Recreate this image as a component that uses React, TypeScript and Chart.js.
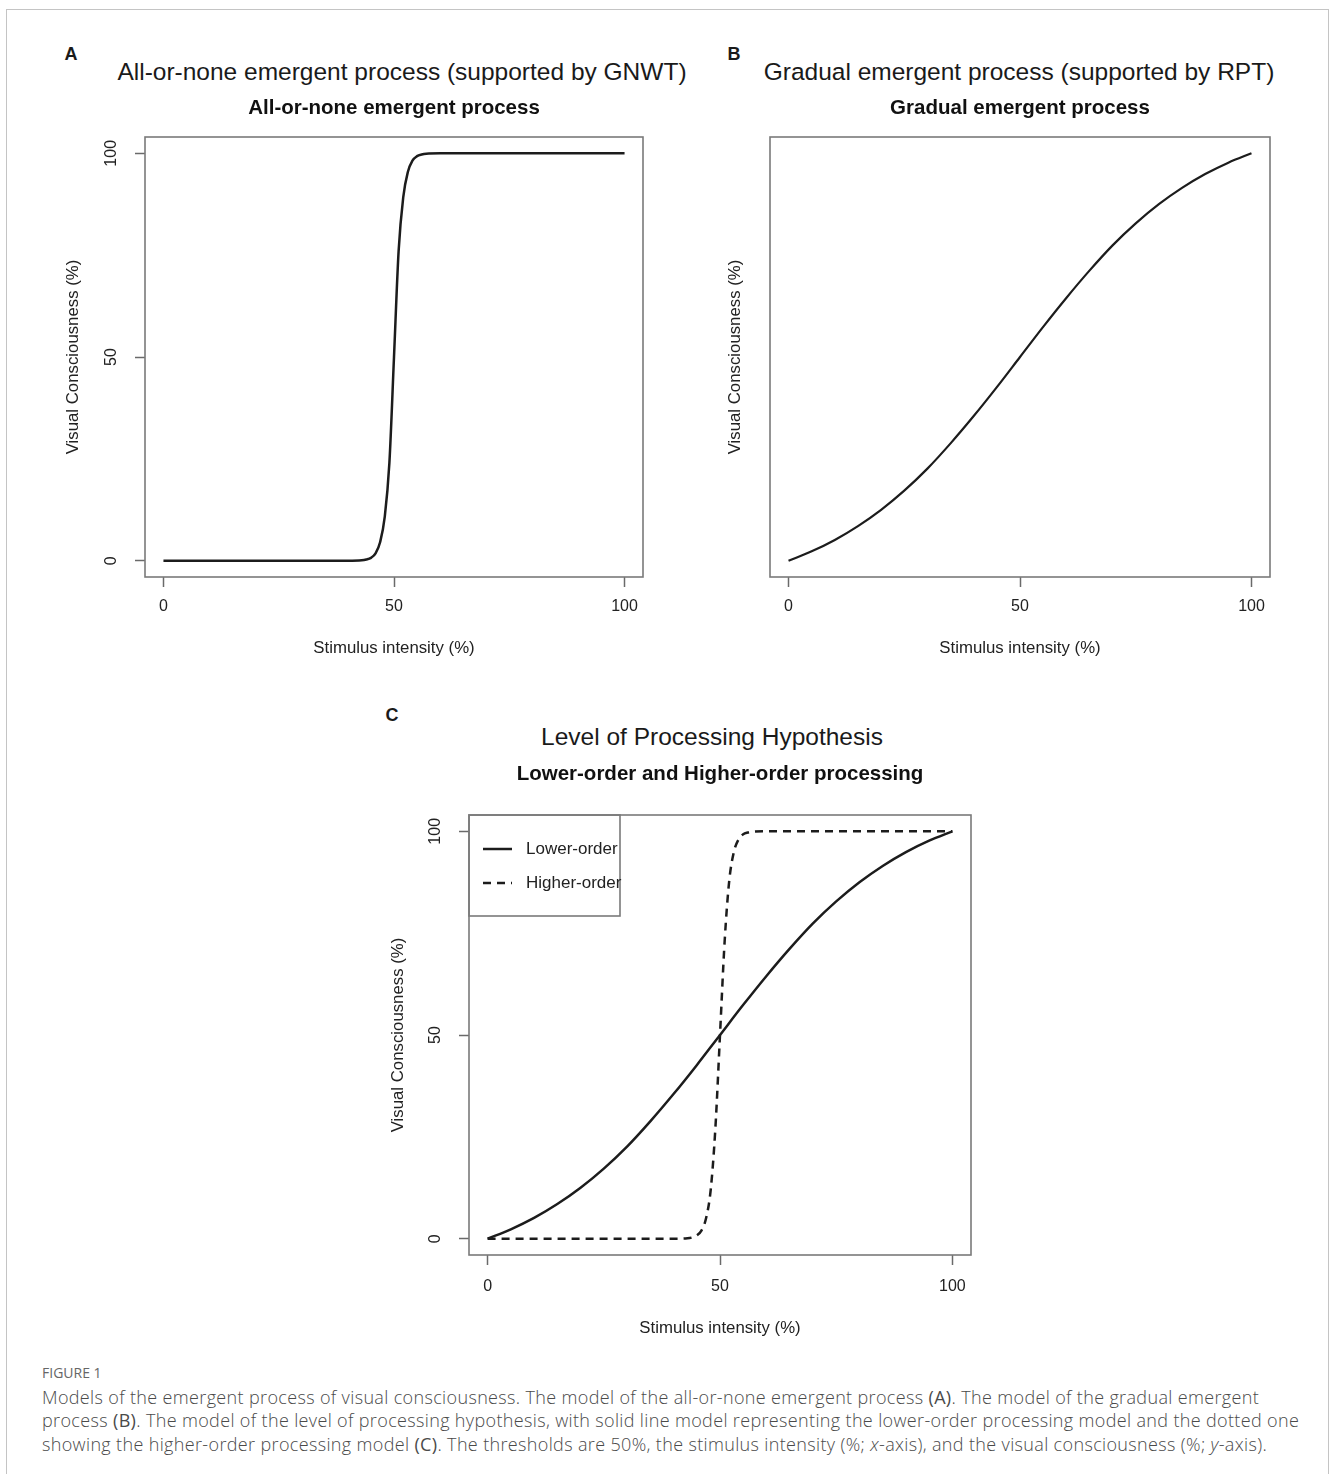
import React, { useEffect, useRef } from 'react';
import { Chart, registerables } from 'chart.js';

Chart.register(...registerables);

const FONT = '"Liberation Sans", Arial, Helvetica, sans-serif';
const CAPTION_FONT = '"Open Sans", Lato, "Noto Sans", sans-serif';

// ---------------- data ----------------
const xTickValues = [0, 50, 100];
const yTickValues = [0, 50, 100];

// All-or-none (steep) model
const allOrNoneX = [0, 10, 20, 30, 40, 43, 44, 45, 46, 47, 48, 49, 50, 51, 52, 53, 54, 55, 56, 57, 60, 70, 80, 90, 100];
const allOrNoneY = [0, 0, 0, 0, 0, 0.1, 0.3, 0.7, 1.8, 4.6, 10.8, 24, 50, 76, 89.2, 95.4, 98.2, 99.3, 99.7, 99.9, 100, 100, 100, 100, 100];

// Gradual model
const gradualX = [0, 5, 10, 15, 20, 25, 30, 35, 40, 45, 50, 55, 60, 65, 70, 75, 80, 85, 90, 95, 100];
const gradualY = [0, 2.3, 5.1, 8.5, 12.5, 17.2, 22.6, 28.8, 35.5, 42.6, 50, 57.4, 64.5, 71.2, 77.4, 82.8, 87.5, 91.5, 94.9, 97.7, 100];

// Panel C: lower-order (solid) and higher-order (dashed)
const lowerOrderX = [0, 5, 10, 15, 20, 25, 30, 35, 40, 45, 50, 55, 60, 65, 70, 75, 80, 85, 90, 95, 100];
const lowerOrderY = [0, 2.3, 5.1, 8.5, 12.5, 17.2, 22.6, 28.8, 35.5, 42.6, 50, 57.4, 64.5, 71.2, 77.4, 82.8, 87.5, 91.5, 94.9, 97.7, 100];
const higherOrderX = [0, 10, 20, 30, 40, 43, 44, 45, 46, 47, 48, 49, 50, 51, 52, 53, 54, 55, 56, 57, 60, 70, 80, 90, 100];
const higherOrderY = [0, 0, 0, 0, 0, 0.1, 0.3, 0.8, 2.0, 5.0, 12.0, 27, 50, 73, 88, 95, 98, 99.3, 99.7, 99.9, 100, 100, 100, 100, 100];

const seriesLabels = ['Lower-order', 'Higher-order'];

const X_TITLE = 'Stimulus intensity (%)';
const Y_TITLE = 'Visual Consciousness (%)';

const toPoints = (xs: number[], ys: number[]) => xs.map((x, i) => ({ x, y: ys[i] }));

// ---------------- plugins ----------------
const boxPlugin = {
  id: 'rBox',
  afterDraw(chart: any) {
    const { ctx, chartArea } = chart;
    ctx.save();
    ctx.strokeStyle = '#7a7a7a';
    ctx.lineWidth = 1.6;
    ctx.strokeRect(chartArea.left, chartArea.top, chartArea.right - chartArea.left, chartArea.bottom - chartArea.top);
    ctx.restore();
  },
};

const rotatedYTicksPlugin = {
  id: 'rYTicks',
  afterDraw(chart: any, _args: any, opts: any) {
    if (!opts || !opts.display) return;
    const scale = chart.scales.y;
    const { ctx, chartArea } = chart;
    ctx.save();
    ctx.fillStyle = '#222';
    ctx.font = `16px ${FONT}`;
    ctx.textAlign = 'center';
    ctx.textBaseline = 'middle';
    for (const t of scale.ticks) {
      const y = scale.getPixelForValue(t.value);
      ctx.save();
      ctx.translate(chartArea.left - opts.offset, y);
      ctx.rotate(-Math.PI / 2);
      ctx.fillText(String(t.value), 0, 0);
      ctx.restore();
    }
    ctx.restore();
  },
};

const rLegendPlugin = {
  id: 'rLegend',
  afterDraw(chart: any, _args: any, opts: any) {
    if (!opts || !opts.display) return;
    const { ctx, chartArea } = chart;
    const L = chartArea.left;
    const T = chartArea.top;
    ctx.save();
    ctx.strokeStyle = '#7a7a7a';
    ctx.lineWidth = 1.6;
    ctx.strokeRect(L, T, opts.width, opts.height);
    ctx.font = `17px ${FONT}`;
    ctx.textBaseline = 'middle';
    ctx.textAlign = 'left';
    chart.data.datasets.forEach((ds: any, i: number) => {
      const y = T + opts.firstRow + i * opts.rowGap;
      ctx.strokeStyle = ds.borderColor;
      ctx.lineWidth = ds.borderWidth;
      ctx.setLineDash(ds.borderDash || []);
      ctx.beginPath();
      ctx.moveTo(L + 14, y);
      ctx.lineTo(L + 43, y);
      ctx.stroke();
      ctx.setLineDash([]);
      ctx.fillStyle = '#222';
      ctx.fillText(ds.label, L + 57, y);
    });
    ctx.restore();
  },
};

type Geo = {
  subtitle: string;
  datasets: any[];
  yTicks: boolean;
  yAxisWidth: number;
  yTitlePad: number;
  xAxisHeight: number;
  xTitlePad: number;
  xTickPad: number;
  titlePadTop: number;
  titlePadBottom: number;
  rightPad: number;
  legend: boolean;
};

function makeConfig(g: Geo): any {
  const tickFont = { family: FONT, size: 16 };
  const axisFont = { family: FONT, size: 16.8 };
  return {
    type: 'line',
    data: { datasets: g.datasets },
    options: {
      responsive: false,
      animation: false,
      events: [],
      layout: { padding: { left: 0, right: g.rightPad, top: 0, bottom: 0 } },
      elements: { point: { radius: 0 }, line: { cubicInterpolationMode: 'monotone' } },
      scales: {
        x: {
          type: 'linear',
          min: -4,
          max: 104,
          bounds: 'data',
          afterBuildTicks: (s: any) => {
            s.ticks = xTickValues.map((v) => ({ value: v }));
          },
          afterFit: (s: any) => {
            s.height = g.xAxisHeight;
          },
          grid: { display: true, drawOnChartArea: false, drawTicks: true, tickLength: 10, tickWidth: 1.5, tickColor: '#6a6a6a' },
          border: { display: false },
          ticks: { display: true, padding: g.xTickPad, autoSkip: false, maxRotation: 0, minRotation: 0, color: '#222', font: tickFont },
          title: { display: true, text: X_TITLE, color: '#222', font: axisFont, padding: { top: 0, bottom: g.xTitlePad } },
        },
        y: {
          type: 'linear',
          min: -4,
          max: 104,
          bounds: 'data',
          afterBuildTicks: (s: any) => {
            s.ticks = yTickValues.map((v) => ({ value: v }));
          },
          afterFit: (s: any) => {
            s.width = g.yAxisWidth;
          },
          grid: { display: g.yTicks, drawOnChartArea: false, drawTicks: true, tickLength: 10, tickWidth: 1.5, tickColor: '#6a6a6a' },
          border: { display: false },
          ticks: { display: false },
          title: { display: true, text: Y_TITLE, color: '#222', font: axisFont, padding: { top: g.yTitlePad, bottom: 0 } },
        },
      },
      plugins: {
        legend: { display: false },
        tooltip: { enabled: false },
        title: {
          display: true,
          text: g.subtitle,
          fullSize: false,
          color: '#111',
          font: { family: FONT, size: 20.5, weight: 'bold' },
          padding: { top: g.titlePadTop, bottom: g.titlePadBottom },
        },
        rYTicks: { display: g.yTicks, offset: 33 },
        rLegend: { display: g.legend, width: 151, height: 101, firstRow: 34, rowGap: 34 },
      },
    },
    plugins: [boxPlugin, rotatedYTicksPlugin, rLegendPlugin],
  };
}

function ChartPanel({ left, top, width, height, geo }: { left: number; top: number; width: number; height: number; geo: Geo }) {
  const ref = useRef<HTMLCanvasElement>(null);
  useEffect(() => {
    const chart = new Chart(ref.current as HTMLCanvasElement, makeConfig(geo));
    return () => chart.destroy();
  }, []);
  return (
    <canvas
      ref={ref}
      width={width}
      height={height}
      style={{ position: 'absolute', left, top, width, height }}
    />
  );
}

const lineColor = '#1c1c1c';

const panelA: Geo = {
  subtitle: 'All-or-none emergent process',
  datasets: [
    { label: 'All-or-none', data: toPoints(allOrNoneX, allOrNoneY), borderColor: lineColor, borderWidth: 2.5, fill: false },
  ],
  yTicks: true,
  yAxisWidth: 95,
  yTitlePad: 12.9,
  xAxisHeight: 103,
  xTitlePad: 21.9,
  xTickPad: 10.4,
  titlePadTop: 15.7,
  titlePadBottom: 16.7,
  rightPad: 37,
  legend: false,
};

const panelB: Geo = {
  subtitle: 'Gradual emergent process',
  datasets: [
    { label: 'Gradual', data: toPoints(gradualX, gradualY), borderColor: lineColor, borderWidth: 2.2, fill: false },
  ],
  yTicks: false,
  yAxisWidth: 60,
  yTitlePad: 14.9,
  xAxisHeight: 103,
  xTitlePad: 21.9,
  xTickPad: 10.4,
  titlePadTop: 15.7,
  titlePadBottom: 16.7,
  rightPad: 40,
  legend: false,
};

const panelC: Geo = {
  subtitle: 'Lower-order and Higher-order processing',
  datasets: [
    { label: seriesLabels[0], data: toPoints(lowerOrderX, lowerOrderY), borderColor: lineColor, borderWidth: 2.5, fill: false },
    { label: seriesLabels[1], data: toPoints(higherOrderX, higherOrderY), borderColor: lineColor, borderWidth: 2.5, borderDash: [8, 6], fill: false },
  ],
  yTicks: true,
  yAxisWidth: 89,
  yTitlePad: 7.9,
  xAxisHeight: 95,
  xTitlePad: 11.9,
  xTickPad: 12.4,
  titlePadTop: 21.7,
  titlePadBottom: 28.7,
  rightPad: 39,
  legend: true,
};

function Centered({ cx, cy, size, bold, children }: { cx: number; cy: number; size: number; bold?: boolean; children: React.ReactNode }) {
  return (
    <div
      style={{
        position: 'absolute',
        left: cx - 450,
        top: cy - size * 0.6,
        width: 900,
        height: size * 1.2,
        lineHeight: `${size * 1.2}px`,
        textAlign: 'center',
        fontFamily: FONT,
        fontSize: size,
        fontWeight: bold ? 'bold' : 'normal',
        color: '#1a1a1a',
        whiteSpace: 'nowrap',
      }}
    >
      {children}
    </div>
  );
}

export default function App() {
  const captionLine: React.CSSProperties = {
    position: 'absolute',
    left: 42,
    fontFamily: CAPTION_FONT,
    fontSize: 18,
    fontWeight: 300,
    letterSpacing: '0.35px',
    lineHeight: '22px',
    color: '#4a4a4a',
    whiteSpace: 'nowrap',
  };
  return (
    <div style={{ position: 'absolute', left: 0, top: 0, width: 1331, height: 1474, overflow: 'hidden', background: '#fff' }}>
      <div
        style={{
          position: 'absolute',
          left: 6,
          top: 9,
          width: 1323,
          height: 1470,
          boxSizing: 'border-box',
          borderTop: '1px solid #c4c4c4',
          borderLeft: '1px solid #c4c4c4',
          borderRight: '1px solid #c4c4c4',
        }}
      />
      <Centered cx={71} cy={55} size={18} bold>A</Centered>
      <Centered cx={734} cy={55} size={18} bold>B</Centered>
      <Centered cx={392} cy={716} size={18} bold>C</Centered>
      <Centered cx={402} cy={72} size={24.5}>All-or-none emergent process (supported by GNWT)</Centered>
      <Centered cx={1019} cy={72} size={24.5}>Gradual emergent process (supported by RPT)</Centered>
      <Centered cx={712} cy={737} size={24.5}>Level of Processing Hypothesis</Centered>

      <ChartPanel left={50} top={80} width={630} height={600} geo={panelA} />
      <ChartPanel left={710} top={80} width={600} height={600} geo={panelB} />
      <ChartPanel left={380} top={740} width={630} height={610} geo={panelC} />

      <div style={{ ...captionLine, top: 1362, fontSize: 14, fontWeight: 400, letterSpacing: '0px', color: '#666' }}>FIGURE 1</div>
      <div style={{ ...captionLine, top: 1386 }}>
        Models of the emergent process of visual consciousness. The model of the all-or-none emergent process <b>(A)</b>. The model of the gradual emergent
      </div>
      <div style={{ ...captionLine, top: 1409 }}>
        process <b>(B)</b>. The model of the level of processing hypothesis, with solid line model representing the lower-order processing model and the dotted one
      </div>
      <div style={{ ...captionLine, top: 1433 }}>
        showing the higher-order processing model <b>(C)</b>. The thresholds are 50%, the stimulus intensity (%; <i>x</i>-axis), and the visual consciousness (%; <i>y</i>-axis).
      </div>
    </div>
  );
}
